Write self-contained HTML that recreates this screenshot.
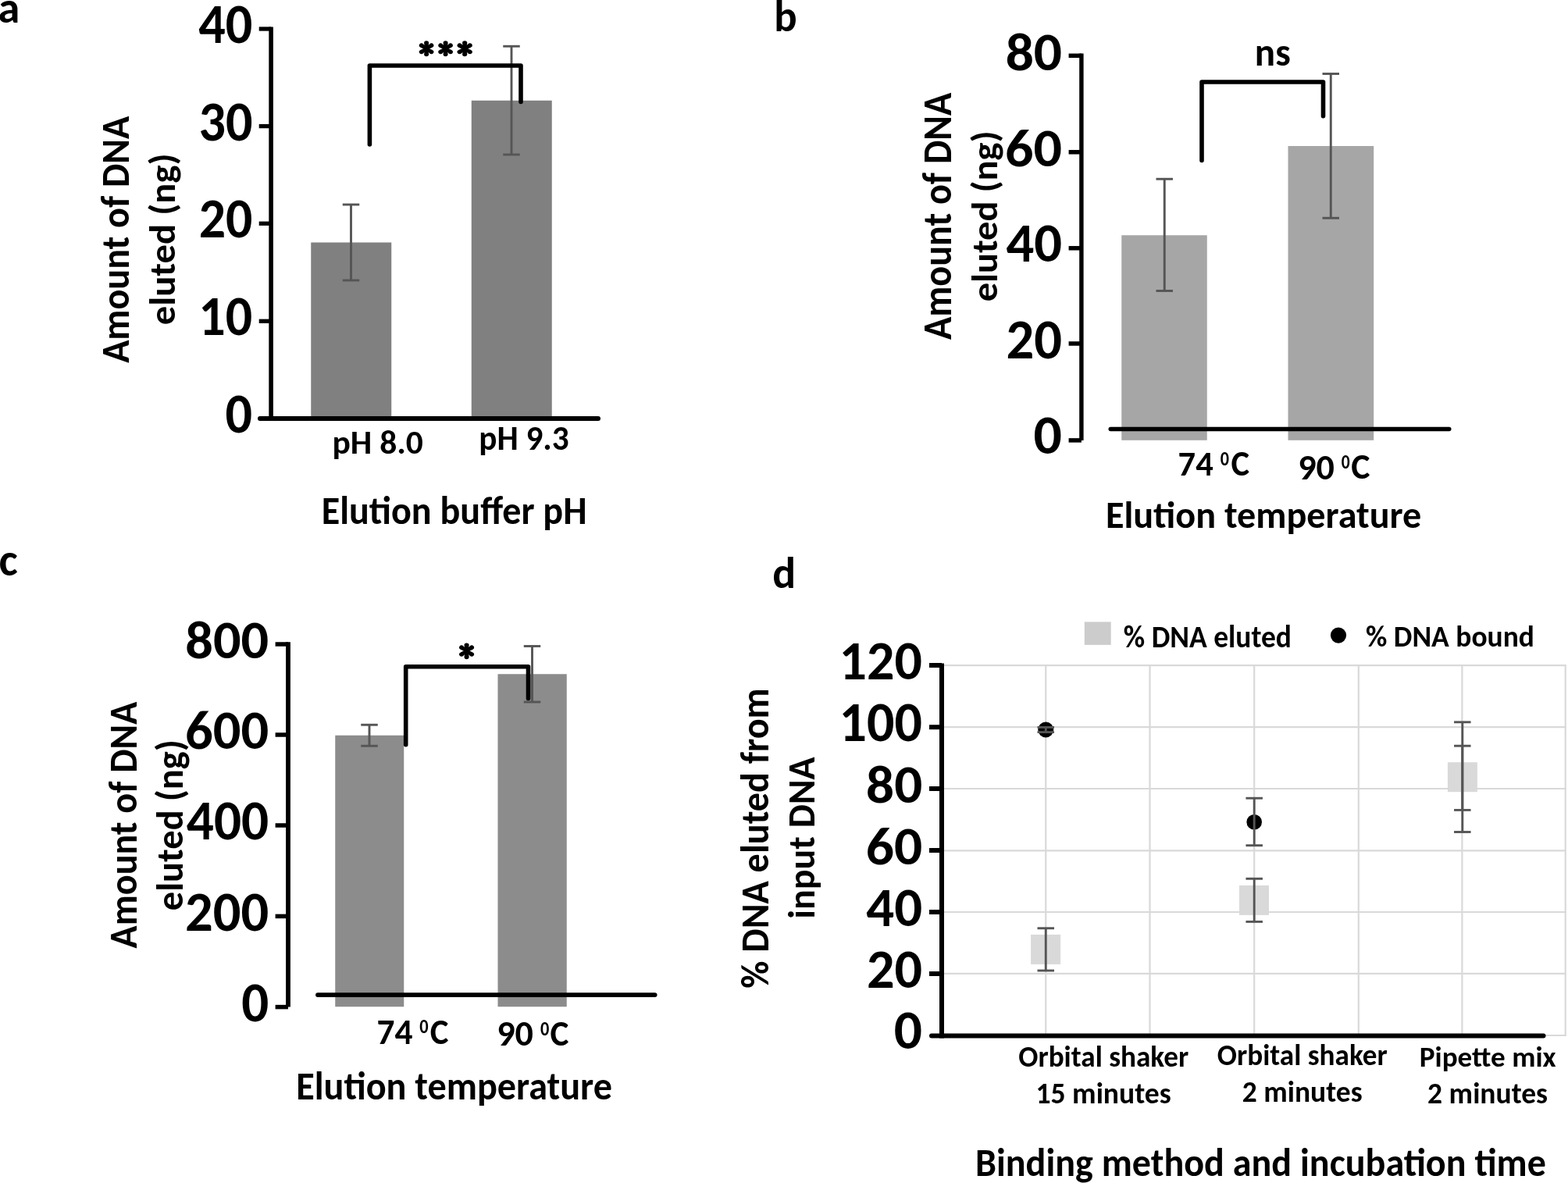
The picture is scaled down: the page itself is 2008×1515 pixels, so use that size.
<!DOCTYPE html>
<html><head><meta charset="utf-8"><title>DNA elution figure</title>
<style>html,body{margin:0;padding:0;background:#fff;}body{width:2008px;height:1515px;overflow:hidden;}</style>
</head><body>
<svg width="2008" height="1515" viewBox="0 0 2008 1515" style="display:block;font-family:Carlito, 'Liberation Sans', sans-serif;font-weight:bold;font-size-adjust:0.4849" fill="#000">
<line x1="1339.25" y1="852.2" x2="1339.25" y2="1326" stroke="#d9d9d9" stroke-width="2.2" stroke-linecap="butt"/>
<line x1="1472.5" y1="852.2" x2="1472.5" y2="1326" stroke="#d9d9d9" stroke-width="2.2" stroke-linecap="butt"/>
<line x1="1606.2" y1="852.2" x2="1606.2" y2="1326" stroke="#d9d9d9" stroke-width="2.2" stroke-linecap="butt"/>
<line x1="1739.8" y1="852.2" x2="1739.8" y2="1326" stroke="#d9d9d9" stroke-width="2.2" stroke-linecap="butt"/>
<line x1="1872.4" y1="852.2" x2="1872.4" y2="1326" stroke="#d9d9d9" stroke-width="2.2" stroke-linecap="butt"/>
<line x1="2004.7" y1="852.2" x2="2004.7" y2="1326" stroke="#d9d9d9" stroke-width="2.2" stroke-linecap="butt"/>
<line x1="1206" y1="852.2" x2="2005.8" y2="852.2" stroke="#d9d9d9" stroke-width="2.2" stroke-linecap="butt"/>
<line x1="1206" y1="931.2" x2="2005.8" y2="931.2" stroke="#d9d9d9" stroke-width="2.2" stroke-linecap="butt"/>
<line x1="1206" y1="1010" x2="2005.8" y2="1010" stroke="#d9d9d9" stroke-width="2.2" stroke-linecap="butt"/>
<line x1="1206" y1="1089.3" x2="2005.8" y2="1089.3" stroke="#d9d9d9" stroke-width="2.2" stroke-linecap="butt"/>
<line x1="1206" y1="1168" x2="2005.8" y2="1168" stroke="#d9d9d9" stroke-width="2.2" stroke-linecap="butt"/>
<line x1="1206" y1="1246.8" x2="2005.8" y2="1246.8" stroke="#d9d9d9" stroke-width="2.2" stroke-linecap="butt"/>
<line x1="1206" y1="1326" x2="2005.8" y2="1326" stroke="#d9d9d9" stroke-width="2.2" stroke-linecap="butt"/>
<rect x="398.25" y="310.5" width="103.00" height="223.50" fill="#808080"/>
<rect x="603.75" y="128.75" width="103.00" height="405.25" fill="#808080"/>
<line x1="449.5" y1="262" x2="449.5" y2="359" stroke="#555555" stroke-width="2.9" stroke-linecap="butt"/>
<line x1="438.75" y1="262" x2="460.25" y2="262" stroke="#555555" stroke-width="2.9" stroke-linecap="butt"/>
<line x1="438.75" y1="359" x2="460.25" y2="359" stroke="#555555" stroke-width="2.9" stroke-linecap="butt"/>
<line x1="655" y1="59.25" x2="655" y2="198" stroke="#555555" stroke-width="2.9" stroke-linecap="butt"/>
<line x1="644.25" y1="59.25" x2="665.75" y2="59.25" stroke="#555555" stroke-width="2.9" stroke-linecap="butt"/>
<line x1="644.25" y1="198" x2="665.75" y2="198" stroke="#555555" stroke-width="2.9" stroke-linecap="butt"/>
<line x1="347.1" y1="34.5" x2="347.1" y2="538.5" stroke="#000" stroke-width="5.6" stroke-linecap="butt"/>
<line x1="331.7" y1="37" x2="347.3" y2="37" stroke="#000" stroke-width="5.3" stroke-linecap="butt"/>
<line x1="331.7" y1="161.6" x2="347.3" y2="161.6" stroke="#000" stroke-width="5.3" stroke-linecap="butt"/>
<line x1="331.7" y1="286.25" x2="347.3" y2="286.25" stroke="#000" stroke-width="5.3" stroke-linecap="butt"/>
<line x1="331.7" y1="411.3" x2="347.3" y2="411.3" stroke="#000" stroke-width="5.3" stroke-linecap="butt"/>
<line x1="333" y1="536" x2="766" y2="536" stroke="#000" stroke-width="6" stroke-linecap="round"/>
<path d="M473.4 185 V84.05 H667 V130.5" fill="none" stroke="#000" stroke-width="5.6" stroke-linecap="round" stroke-linejoin="round"/>
<rect x="1436.25" y="301.25" width="109.50" height="262.55" fill="#a6a6a6"/>
<rect x="1649.5" y="187" width="109.70" height="376.80" fill="#a6a6a6"/>
<line x1="1491.25" y1="229.25" x2="1491.25" y2="372.5" stroke="#555555" stroke-width="2.9" stroke-linecap="butt"/>
<line x1="1480.5" y1="229.25" x2="1502.0" y2="229.25" stroke="#555555" stroke-width="2.9" stroke-linecap="butt"/>
<line x1="1480.5" y1="372.5" x2="1502.0" y2="372.5" stroke="#555555" stroke-width="2.9" stroke-linecap="butt"/>
<line x1="1704.25" y1="94.5" x2="1704.25" y2="279.25" stroke="#555555" stroke-width="2.9" stroke-linecap="butt"/>
<line x1="1693.5" y1="94.5" x2="1715.0" y2="94.5" stroke="#555555" stroke-width="2.9" stroke-linecap="butt"/>
<line x1="1693.5" y1="279.25" x2="1715.0" y2="279.25" stroke="#555555" stroke-width="2.9" stroke-linecap="butt"/>
<line x1="1384.9" y1="68.5" x2="1384.9" y2="564.0" stroke="#000" stroke-width="5.4" stroke-linecap="butt"/>
<line x1="1368.6" y1="71.3" x2="1384.9" y2="71.3" stroke="#000" stroke-width="5.5" stroke-linecap="butt"/>
<line x1="1368.6" y1="194.8" x2="1384.9" y2="194.8" stroke="#000" stroke-width="5.5" stroke-linecap="butt"/>
<line x1="1368.6" y1="317.8" x2="1384.9" y2="317.8" stroke="#000" stroke-width="5.5" stroke-linecap="butt"/>
<line x1="1368.6" y1="440" x2="1384.9" y2="440" stroke="#000" stroke-width="5.5" stroke-linecap="butt"/>
<line x1="1368.6" y1="563.9" x2="1384.9" y2="563.9" stroke="#000" stroke-width="5.5" stroke-linecap="butt"/>
<line x1="1422.2" y1="549.5" x2="1855.8" y2="549.5" stroke="#000" stroke-width="5.4" stroke-linecap="round"/>
<path d="M1539 205.5 V105 H1694.5 V148.75" fill="none" stroke="#000" stroke-width="5.6" stroke-linecap="round" stroke-linejoin="round"/>
<rect x="429.25" y="941.75" width="88.00" height="347.50" fill="#8c8c8c"/>
<rect x="637.5" y="863.25" width="88.25" height="426.00" fill="#8c8c8c"/>
<line x1="473" y1="928.25" x2="473" y2="955.25" stroke="#555555" stroke-width="2.9" stroke-linecap="butt"/>
<line x1="462.25" y1="928.25" x2="483.75" y2="928.25" stroke="#555555" stroke-width="2.9" stroke-linecap="butt"/>
<line x1="462.25" y1="955.25" x2="483.75" y2="955.25" stroke="#555555" stroke-width="2.9" stroke-linecap="butt"/>
<line x1="681.5" y1="827.5" x2="681.5" y2="899" stroke="#555555" stroke-width="2.9" stroke-linecap="butt"/>
<line x1="670.75" y1="827.5" x2="692.25" y2="827.5" stroke="#555555" stroke-width="2.9" stroke-linecap="butt"/>
<line x1="670.75" y1="899" x2="692.25" y2="899" stroke="#555555" stroke-width="2.9" stroke-linecap="butt"/>
<line x1="369" y1="822.2" x2="369" y2="1289.6" stroke="#000" stroke-width="5.8" stroke-linecap="butt"/>
<line x1="352.6" y1="825" x2="369" y2="825" stroke="#000" stroke-width="5.5" stroke-linecap="butt"/>
<line x1="352.6" y1="941" x2="369" y2="941" stroke="#000" stroke-width="5.5" stroke-linecap="butt"/>
<line x1="352.6" y1="1057" x2="369" y2="1057" stroke="#000" stroke-width="5.5" stroke-linecap="butt"/>
<line x1="352.6" y1="1173.4" x2="369" y2="1173.4" stroke="#000" stroke-width="5.5" stroke-linecap="butt"/>
<line x1="352.6" y1="1289.6" x2="369" y2="1289.6" stroke="#000" stroke-width="5.5" stroke-linecap="butt"/>
<line x1="407" y1="1274.1" x2="838.6" y2="1274.1" stroke="#000" stroke-width="5.9" stroke-linecap="round"/>
<path d="M519.7 953.75 V853.7 H676.5 V894.5" fill="none" stroke="#000" stroke-width="5.6" stroke-linecap="round" stroke-linejoin="round"/>
<rect x="1320.1" y="1196.9" width="38.00" height="38.00" fill="#d9d9d9"/>
<rect x="1587" y="1133.9" width="38.00" height="38.00" fill="#d9d9d9"/>
<rect x="1853.9" y="976.2" width="38.00" height="38.00" fill="#d9d9d9"/>
<circle cx="1339.25" cy="934.5" r="10" fill="#000"/>
<circle cx="1606.2" cy="1052.8" r="9.8" fill="#000"/>
<line x1="1339.25" y1="1188.75" x2="1339.25" y2="1243" stroke="#555555" stroke-width="2.9" stroke-linecap="butt"/>
<line x1="1328.5" y1="1188.75" x2="1350.0" y2="1188.75" stroke="#555555" stroke-width="2.9" stroke-linecap="butt"/>
<line x1="1328.5" y1="1243" x2="1350.0" y2="1243" stroke="#555555" stroke-width="2.9" stroke-linecap="butt"/>
<line x1="1339.25" y1="931.4" x2="1339.25" y2="937.6" stroke="#555555" stroke-width="2.9" stroke-linecap="butt"/>
<line x1="1328.5" y1="931.4" x2="1350.0" y2="931.4" stroke="#555555" stroke-width="2.9" stroke-linecap="butt"/>
<line x1="1328.5" y1="937.6" x2="1350.0" y2="937.6" stroke="#555555" stroke-width="2.9" stroke-linecap="butt"/>
<line x1="1606.2" y1="1125.3" x2="1606.2" y2="1180.4" stroke="#555555" stroke-width="2.9" stroke-linecap="butt"/>
<line x1="1595.45" y1="1125.3" x2="1616.95" y2="1125.3" stroke="#555555" stroke-width="2.9" stroke-linecap="butt"/>
<line x1="1595.45" y1="1180.4" x2="1616.95" y2="1180.4" stroke="#555555" stroke-width="2.9" stroke-linecap="butt"/>
<line x1="1606.2" y1="1022.2" x2="1606.2" y2="1082.7" stroke="#555555" stroke-width="2.9" stroke-linecap="butt"/>
<line x1="1595.45" y1="1022.2" x2="1616.95" y2="1022.2" stroke="#555555" stroke-width="2.9" stroke-linecap="butt"/>
<line x1="1595.45" y1="1082.7" x2="1616.95" y2="1082.7" stroke="#555555" stroke-width="2.9" stroke-linecap="butt"/>
<line x1="1872.8" y1="924.8" x2="1872.8" y2="1065.5" stroke="#555555" stroke-width="2.9" stroke-linecap="butt"/>
<line x1="1862.05" y1="924.8" x2="1883.55" y2="924.8" stroke="#555555" stroke-width="2.9" stroke-linecap="butt"/>
<line x1="1862.05" y1="1065.5" x2="1883.55" y2="1065.5" stroke="#555555" stroke-width="2.9" stroke-linecap="butt"/>
<line x1="1872.8" y1="955.2" x2="1872.8" y2="1037.4" stroke="#555555" stroke-width="2.9" stroke-linecap="butt"/>
<line x1="1862.05" y1="955.2" x2="1883.55" y2="955.2" stroke="#555555" stroke-width="2.9" stroke-linecap="butt"/>
<line x1="1862.05" y1="1037.4" x2="1883.55" y2="1037.4" stroke="#555555" stroke-width="2.9" stroke-linecap="butt"/>
<line x1="1206" y1="849.5" x2="1206" y2="1329.5" stroke="#000" stroke-width="6" stroke-linecap="butt"/>
<line x1="1190" y1="852" x2="1206" y2="852" stroke="#000" stroke-width="6" stroke-linecap="butt"/>
<line x1="1190" y1="931.2" x2="1206" y2="931.2" stroke="#000" stroke-width="6" stroke-linecap="butt"/>
<line x1="1190" y1="1010" x2="1206" y2="1010" stroke="#000" stroke-width="6" stroke-linecap="butt"/>
<line x1="1190" y1="1089" x2="1206" y2="1089" stroke="#000" stroke-width="6" stroke-linecap="butt"/>
<line x1="1190" y1="1168" x2="1206" y2="1168" stroke="#000" stroke-width="6" stroke-linecap="butt"/>
<line x1="1190" y1="1247" x2="1206" y2="1247" stroke="#000" stroke-width="6" stroke-linecap="butt"/>
<line x1="1193" y1="1326.6" x2="1976.5" y2="1326.6" stroke="#000" stroke-width="6" stroke-linecap="round"/>
<rect x="1388.8" y="796.4" width="33.90" height="29.50" fill="#cccccc"/>
<circle cx="1714" cy="813.6" r="10.1" fill="#000"/>
<text x="-2.47" y="28.70" font-size="55.60" textLength="27.79" lengthAdjust="spacingAndGlyphs">a</text>
<text x="991.31" y="40.40" font-size="56.24" textLength="29.42" lengthAdjust="spacingAndGlyphs">b</text>
<text x="-1.45" y="736.50" font-size="57.98" textLength="24.23" lengthAdjust="spacingAndGlyphs">c</text>
<text x="989.13" y="752.60" font-size="56.17" textLength="29.91" lengthAdjust="spacingAndGlyphs">d</text>
<text x="254.32" y="55.30" font-size="71.97" textLength="69.10" lengthAdjust="spacingAndGlyphs">40</text>
<text x="254.38" y="179.60" font-size="71.97" textLength="69.04" lengthAdjust="spacingAndGlyphs">30</text>
<text x="254.73" y="304.20" font-size="71.89" textLength="68.67" lengthAdjust="spacingAndGlyphs">20</text>
<text x="254.34" y="429.00" font-size="72.12" textLength="68.86" lengthAdjust="spacingAndGlyphs">10</text>
<text x="288.54" y="554.00" font-size="72.27" textLength="34.55" lengthAdjust="spacingAndGlyphs">0</text>
<text x="425.49" y="581.30" font-size="42.59" textLength="116.46" lengthAdjust="spacingAndGlyphs">pH 8.0</text>
<text x="613.31" y="575.90" font-size="44.55" textLength="115.46" lengthAdjust="spacingAndGlyphs">pH 9.3</text>
<text x="411.81" y="671.00" font-size="50.64" textLength="339.70" lengthAdjust="spacingAndGlyphs">Elution buffer pH</text>
<text x="1287.66" y="90.10" font-size="68.78" textLength="72.44" lengthAdjust="spacingAndGlyphs">80</text>
<text x="1287.08" y="212.60" font-size="69.20" textLength="73.03" lengthAdjust="spacingAndGlyphs">60</text>
<text x="1288.49" y="334.80" font-size="70.30" textLength="71.58" lengthAdjust="spacingAndGlyphs">40</text>
<text x="1288.53" y="458.70" font-size="72.27" textLength="71.54" lengthAdjust="spacingAndGlyphs">20</text>
<text x="1323.56" y="581.00" font-size="70.45" textLength="36.41" lengthAdjust="spacingAndGlyphs">0</text>
<text x="1606.86" y="83.60" font-size="51.31" textLength="45.90" lengthAdjust="spacingAndGlyphs">ns</text>
<text x="1508.62" y="608.80" font-size="44.77" textLength="45.09" lengthAdjust="spacingAndGlyphs">74</text>
<text x="1576.51" y="609.30" font-size="45.76" textLength="23.61" lengthAdjust="spacingAndGlyphs">C</text>
<text x="1662.16" y="613.80" font-size="46.82" textLength="46.73" lengthAdjust="spacingAndGlyphs">90</text>
<text x="1730.18" y="613.20" font-size="45.91" textLength="24.24" lengthAdjust="spacingAndGlyphs">C</text>
<text x="1415.91" y="676.00" font-size="48.94" textLength="404.48" lengthAdjust="spacingAndGlyphs">Elution temperature</text>
<text x="237.39" y="843.10" font-size="68.35" textLength="106.85" lengthAdjust="spacingAndGlyphs">800</text>
<text x="237.03" y="959.20" font-size="69.78" textLength="107.22" lengthAdjust="spacingAndGlyphs">600</text>
<text x="238.81" y="1075.10" font-size="71.97" textLength="105.42" lengthAdjust="spacingAndGlyphs">400</text>
<text x="237.03" y="1191.60" font-size="72.12" textLength="107.22" lengthAdjust="spacingAndGlyphs">200</text>
<text x="309.32" y="1307.70" font-size="72.27" textLength="34.99" lengthAdjust="spacingAndGlyphs">0</text>
<text x="482.49" y="1336.70" font-size="46.62" textLength="45.93" lengthAdjust="spacingAndGlyphs">74</text>
<text x="550.80" y="1336.50" font-size="45.61" textLength="23.71" lengthAdjust="spacingAndGlyphs">C</text>
<text x="636.26" y="1339.10" font-size="46.21" textLength="46.73" lengthAdjust="spacingAndGlyphs">90</text>
<text x="704.60" y="1338.80" font-size="45.76" textLength="23.92" lengthAdjust="spacingAndGlyphs">C</text>
<text x="379.21" y="1407.70" font-size="49.93" textLength="404.79" lengthAdjust="spacingAndGlyphs">Elution temperature</text>
<text x="1074.60" y="869.70" font-size="71.52" textLength="106.33" lengthAdjust="spacingAndGlyphs">120</text>
<text x="1074.60" y="949.20" font-size="71.89" textLength="106.33" lengthAdjust="spacingAndGlyphs">100</text>
<text x="1109.12" y="1028.40" font-size="69.64" textLength="72.07" lengthAdjust="spacingAndGlyphs">80</text>
<text x="1108.75" y="1107.20" font-size="69.64" textLength="72.44" lengthAdjust="spacingAndGlyphs">60</text>
<text x="1109.29" y="1186.00" font-size="71.59" textLength="71.89" lengthAdjust="spacingAndGlyphs">40</text>
<text x="1110.04" y="1264.70" font-size="71.52" textLength="71.12" lengthAdjust="spacingAndGlyphs">20</text>
<text x="1144.82" y="1343.40" font-size="71.44" textLength="36.24" lengthAdjust="spacingAndGlyphs">0</text>
<text x="1438.86" y="828.70" font-size="39.57" textLength="215.14" lengthAdjust="spacingAndGlyphs">% DNA eluted</text>
<text x="1748.96" y="828.00" font-size="39.29" textLength="216.00" lengthAdjust="spacingAndGlyphs">% DNA bound</text>
<text x="1304.27" y="1366.10" font-size="39.01" textLength="217.86" lengthAdjust="spacingAndGlyphs">Orbital shaker</text>
<text x="1326.47" y="1412.50" font-size="37.30" textLength="173.23" lengthAdjust="spacingAndGlyphs">15 minutes</text>
<text x="1558.87" y="1364.10" font-size="39.01" textLength="217.86" lengthAdjust="spacingAndGlyphs">Orbital shaker</text>
<text x="1590.79" y="1410.50" font-size="37.87" textLength="153.83" lengthAdjust="spacingAndGlyphs">2 minutes</text>
<text x="1817.76" y="1366.00" font-size="37.02" textLength="174.85" lengthAdjust="spacingAndGlyphs">Pipette mix</text>
<text x="1828.09" y="1412.60" font-size="37.30" textLength="154.03" lengthAdjust="spacingAndGlyphs">2 minutes</text>
<text x="1249.01" y="1506.00" font-size="50.35" textLength="730.92" lengthAdjust="spacingAndGlyphs">Binding method and incubation time</text>
<text x="1562.76" y="595.77" font-size="25.71" textLength="11.23" lengthAdjust="spacingAndGlyphs">0</text>
<text x="1717.77" y="600.27" font-size="26.62" textLength="10.90" lengthAdjust="spacingAndGlyphs">0</text>
<text x="537.35" y="1322.67" font-size="25.86" textLength="11.34" lengthAdjust="spacingAndGlyphs">0</text>
<text x="692.05" y="1325.67" font-size="26.47" textLength="11.34" lengthAdjust="spacingAndGlyphs">0</text>
<text x="536.59" y="74.53" font-size="35.47" textLength="19.22" lengthAdjust="spacingAndGlyphs" font-family="IPAGothic, 'DejaVu Sans', sans-serif" style="font-size-adjust:none" stroke="#000" stroke-width="1.3" stroke-linejoin="round">*</text>
<text x="560.99" y="74.53" font-size="35.47" textLength="19.22" lengthAdjust="spacingAndGlyphs" font-family="IPAGothic, 'DejaVu Sans', sans-serif" style="font-size-adjust:none" stroke="#000" stroke-width="1.3" stroke-linejoin="round">*</text>
<text x="585.36" y="74.53" font-size="35.47" textLength="19.89" lengthAdjust="spacingAndGlyphs" font-family="IPAGothic, 'DejaVu Sans', sans-serif" style="font-size-adjust:none" stroke="#000" stroke-width="1.3" stroke-linejoin="round">*</text>
<text x="587.77" y="847.14" font-size="36.42" textLength="19.67" lengthAdjust="spacingAndGlyphs" font-family="IPAGothic, 'DejaVu Sans', sans-serif" style="font-size-adjust:none" stroke="#000" stroke-width="1.3" stroke-linejoin="round">*</text>
<text transform="translate(164.80,464.60) rotate(-90)" x="-0.24" y="0" font-size="51.14" textLength="316.03" lengthAdjust="spacingAndGlyphs">Amount of DNA</text>
<text transform="translate(223.80,414.70) rotate(-90)" x="-1.46" y="0" font-size="46.85" textLength="219.78" lengthAdjust="spacingAndGlyphs">eluted (ng)</text>
<text transform="translate(1218.05,434.70) rotate(-90)" x="-0.24" y="0" font-size="51.50" textLength="316.08" lengthAdjust="spacingAndGlyphs">Amount of DNA</text>
<text transform="translate(1277.20,384.90) rotate(-90)" x="-1.45" y="0" font-size="47.38" textLength="218.86" lengthAdjust="spacingAndGlyphs">eluted (ng)</text>
<text transform="translate(174.60,1214.20) rotate(-90)" x="-0.24" y="0" font-size="51.00" textLength="315.83" lengthAdjust="spacingAndGlyphs">Amount of DNA</text>
<text transform="translate(233.90,1164.80) rotate(-90)" x="-1.45" y="0" font-size="47.92" textLength="219.07" lengthAdjust="spacingAndGlyphs">eluted (ng)</text>
<text transform="translate(984.20,1264.60) rotate(-90)" x="-1.21" y="0" font-size="50.50" textLength="384.67" lengthAdjust="spacingAndGlyphs">% DNA eluted from</text>
<text transform="translate(1043.00,1174.50) rotate(-90)" x="-2.16" y="0" font-size="47.52" textLength="207.21" lengthAdjust="spacingAndGlyphs">input DNA</text>
</svg>
</body></html>
